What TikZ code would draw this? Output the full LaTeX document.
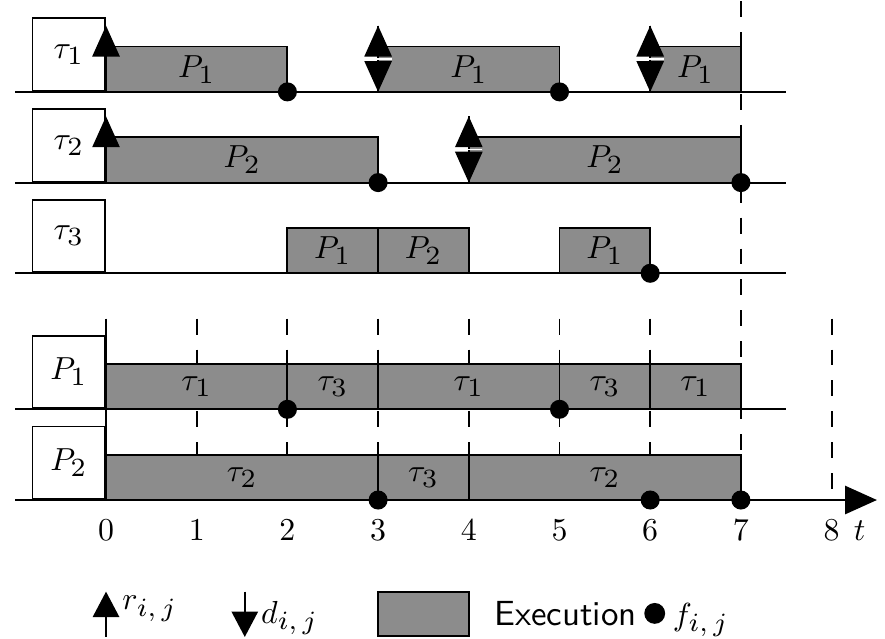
\documentclass[tikz,border=0pt]{standalone}
\usepackage{graphicx}
\usetikzlibrary{arrows.meta}
% subscripts set a little larger than the default script size
\newcommand\lsub[1]{_{\scalebox{1.18}{$\scriptstyle #1$}}}
\begin{document}
\begin{tikzpicture}[x=1cm,y=1cm,line width=0.6pt,
  exec/.style={draw=black,fill=black!45,line width=0.6pt},
  lbl/.style={draw,fill=white,minimum width=0.8cm,minimum height=0.8cm,inner sep=0pt,anchor=south east},
  gridline/.style={dash pattern=on 5pt off 4.7pt,line width=0.6pt},
  rel/.style={-{Triangle[length=0.34cm,width=0.3cm]},line width=0.6pt},
  legarrow/.style={-{Triangle[length=0.28cm,width=0.29cm]},line width=0.6pt},
  fin/.style={circle,fill=black,inner sep=0pt,minimum size=0.21cm},
  sep/.style={white,line width=0.5pt}]
\useasboundingbox (-1.169,-1.522) rectangle (8.589,5.513);

% time grid of the processor schedule
\foreach \i in {1,...,6,8}
  \draw[gridline] (\i,2) -- (\i,0);
\draw[gridline] (7,5.5) -- (7,0);
\draw (0,2) -- (0,0);

% base lines of the rows
\foreach \y in {4.5,3.5,2.5,1}
  \draw (-1,\y) -- (7.5,\y);
\draw[-{Triangle[length=0.35cm,width=0.31cm]}] (-1,0) -- (8.5,0);

% row labels
\node[lbl] (tau1) at (0,4.5) {$\tau\lsub{1}$};
\node[lbl] (tau2) at (0,3.5) {$\tau\lsub{2}$};
\node[lbl] (tau3) at (0,2.5) {$\tau\lsub{3}$};
\node[lbl] (proc1) at (0,1) {$P\lsub{1}$};
\node[lbl] (proc2) at (0,0) {$P\lsub{2}$};

% execution intervals
\foreach \a/\b/\y/\t/\k in {0/2/4.5/P/1, 3/5/4.5/P/1, 6/7/4.5/P/1,
    0/3/3.5/P/2, 4/7/3.5/P/2,
    2/3/2.5/P/1, 3/4/2.5/P/2, 5/6/2.5/P/1,
    0/2/1/\tau/1, 2/3/1/\tau/3, 3/5/1/\tau/1, 5/6/1/\tau/3, 6/7/1/\tau/1,
    0/3/0/\tau/2, 3/4/0/\tau/3, 4/7/0/\tau/2}
  \draw[exec] (\a,\y) rectangle (\b,\y+0.5) node[midway] {$\t\lsub{\k}$};

% releases
\foreach \x/\y in {0/4.5,0/3.5}
  \draw[rel] (\x,\y) -- (\x,\y+0.73);
% deadline followed by the next release
\foreach \x/\y in {3/4.5,6/4.5,4/3.5}{
  \draw[rel] (\x,\y) -- (\x,\y+0.73);
  \draw[rel] (\x,\y+0.73) -- (\x,\y);
  \draw[sep] (\x-0.15,\y+0.365) -- (\x+0.15,\y+0.365);
}

% finishing times
\foreach \x/\y/\n in {2/4.5/a,5/4.5/b,3/3.5/c,7/3.5/d,6/2.5/e,
    2/1/f,5/1/g,3/0/h,6/0/i,7/0/j}
  \node[fin] (fin\n) at (\x,\y) {};

% time axis
\foreach \i in {0,...,8}
  \node[anchor=base] (tick\i) at (\i,-0.45) {$\i$};
\node[anchor=base] (tlabel) at (8.31,-0.45) {$t$};

% legend
\draw[legarrow] (0,-1.51) -- (0,-1.01);
\node[anchor=base west,inner sep=0pt] (legr) at (0.17,-1.21) {$r\lsub{i,\,j}$};
\draw[legarrow] (1.53,-1.01) -- (1.53,-1.51);
\node[anchor=base west,inner sep=0pt] (legd) at (1.70,-1.36) {$d\lsub{i,\,j}$};
\draw[exec] (3,-1.5) rectangle (4,-1.01);
\node[anchor=base west,inner sep=0pt] (lege) at (4.27,-1.38) {\fontsize{10.95}{13}\selectfont\sffamily Execution};
\node[fin,minimum size=0.23cm] (legf) at (6.05,-1.25) {};
\node[anchor=base west,inner sep=0pt] (legfl) at (6.24,-1.38) {$f\lsub{i,\,j}$};
\end{tikzpicture}
\end{document}
